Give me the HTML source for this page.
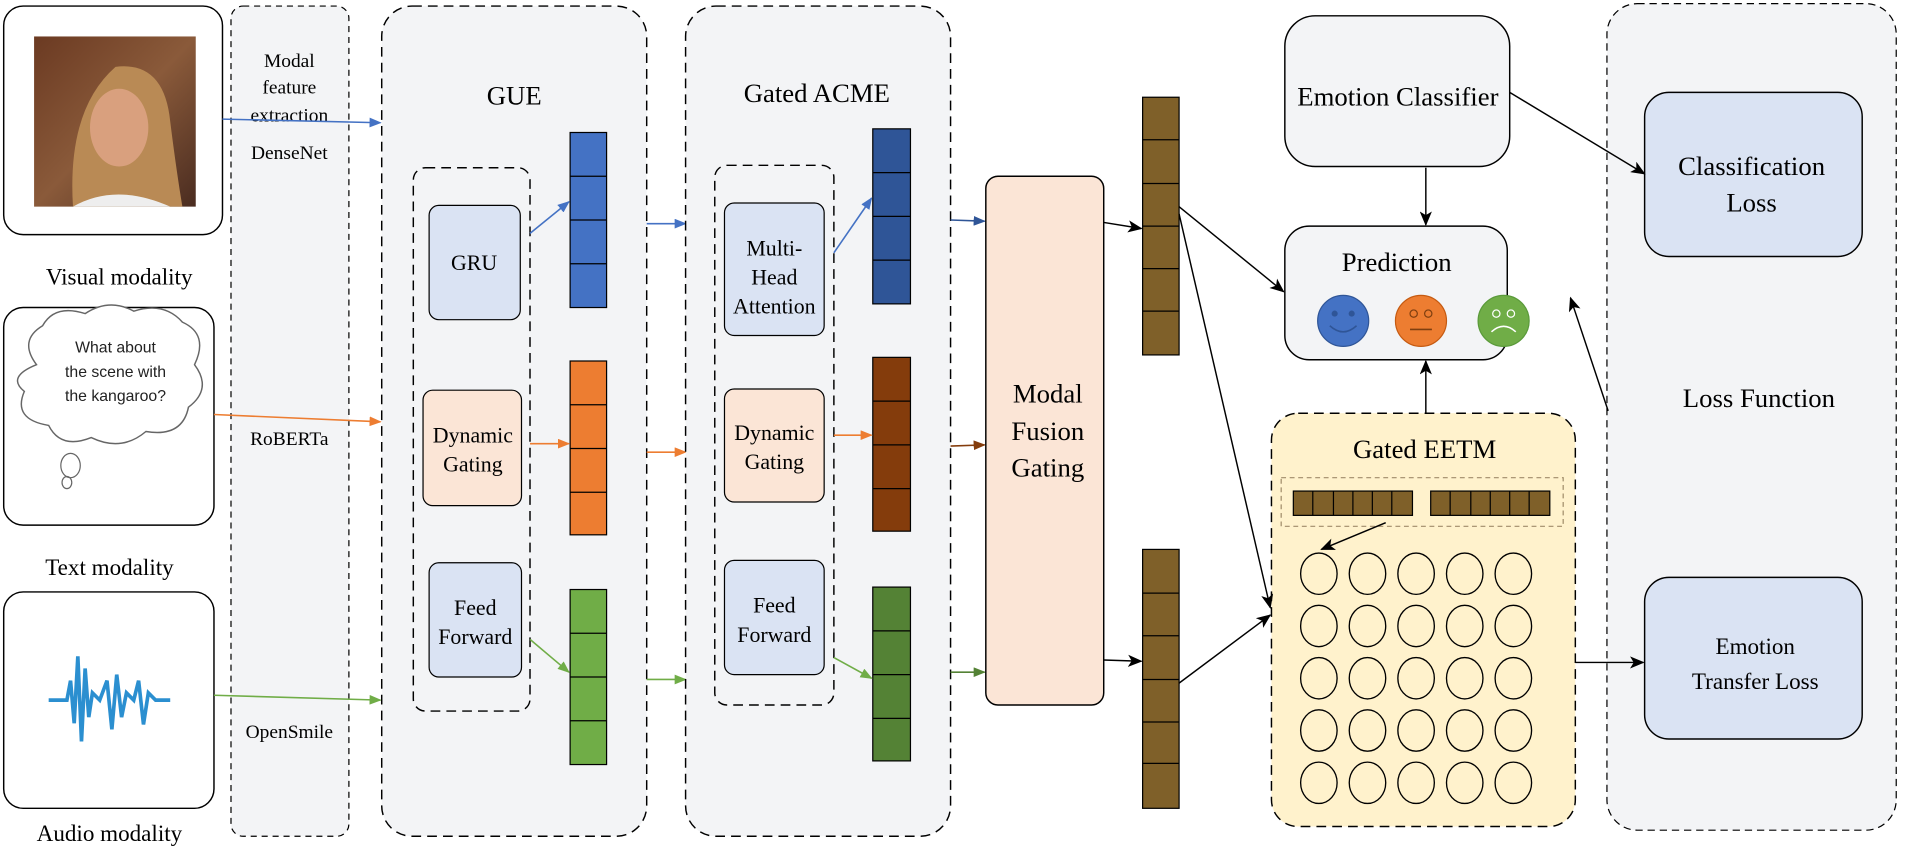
<!DOCTYPE html>
<html><head><meta charset="utf-8"><style>html,body{margin:0;padding:0;background:#fff}svg{display:block}text{font-family:"Liberation Serif",serif}.sans{font-family:"Liberation Sans",sans-serif}</style></head>
<body>
<svg width="1906" height="850" viewBox="0 0 1568 699.3" xmlns="http://www.w3.org/2000/svg">
<defs>
<marker id="ab" markerWidth="10" markerHeight="8" refX="9" refY="4" orient="auto" markerUnits="userSpaceOnUse"><path d="M0,0 L10,4 L0,8 Z" fill="#4472c4"/></marker>
<marker id="ao" markerWidth="10" markerHeight="8" refX="9" refY="4" orient="auto" markerUnits="userSpaceOnUse"><path d="M0,0 L10,4 L0,8 Z" fill="#ed7d31"/></marker>
<marker id="ag" markerWidth="10" markerHeight="8" refX="9" refY="4" orient="auto" markerUnits="userSpaceOnUse"><path d="M0,0 L10,4 L0,8 Z" fill="#70ad47"/></marker>
<marker id="adb" markerWidth="10" markerHeight="8" refX="9" refY="4" orient="auto" markerUnits="userSpaceOnUse"><path d="M0,0 L10,4 L0,8 Z" fill="#2f5597"/></marker>
<marker id="abr" markerWidth="10" markerHeight="8" refX="9" refY="4" orient="auto" markerUnits="userSpaceOnUse"><path d="M0,0 L10,4 L0,8 Z" fill="#843c0c"/></marker>
<marker id="adg" markerWidth="10" markerHeight="8" refX="9" refY="4" orient="auto" markerUnits="userSpaceOnUse"><path d="M0,0 L10,4 L0,8 Z" fill="#548235"/></marker>
<marker id="ak" markerWidth="12" markerHeight="10" refX="11" refY="5" orient="auto" markerUnits="userSpaceOnUse"><path d="M0,0 L12,5 L0,10 L3,5 Z" fill="#000"/></marker>
<linearGradient id="ph" x1="0" y1="0" x2="1" y2="1"><stop offset="0" stop-color="#6b3a22"/><stop offset="0.5" stop-color="#8a5a3a"/><stop offset="1" stop-color="#4a2c20"/></linearGradient>
</defs>

<!-- modality boxes -->
<rect x="3" y="5" width="180" height="188" rx="16" fill="#fff" stroke="#000" stroke-width="1.2"/>
<rect x="28" y="30" width="133" height="140" fill="url(#ph)"/>
<path d="M60,170 Q55,90 95,55 Q135,50 140,100 Q145,140 150,170 Z" fill="#b98a55"/>
<ellipse cx="98" cy="105" rx="24" ry="32" fill="#d9a07e"/>
<path d="M60,170 Q95,150 140,170 Z" fill="#eee"/>
<text x="98" y="234" font-size="19" text-anchor="middle">Visual modality</text>

<rect x="3" y="253" width="173" height="179" rx="16" fill="#fff" stroke="#000" stroke-width="1.2"/>
<path d="M30,300 Q15,280 35,268 Q45,250 70,258 Q90,245 110,256 Q135,248 150,265 Q172,275 160,300 Q175,320 155,335 Q150,360 120,355 Q100,372 75,360 Q50,370 40,350 Q10,345 20,322 Q5,310 30,300 Z" fill="#fff" stroke="#666" stroke-width="1.2"/>
<ellipse cx="58" cy="383" rx="8" ry="10" fill="none" stroke="#666"/>
<ellipse cx="55" cy="397" rx="4" ry="5" fill="none" stroke="#666"/>
<g font-size="13" text-anchor="middle" fill="#222"><text class="sans" x="95" y="290">What about</text><text class="sans" x="95" y="310">the scene with</text><text class="sans" x="95" y="330">the kangaroo?</text></g>
<text x="90" y="473" font-size="19" text-anchor="middle">Text modality</text>

<rect x="3" y="487" width="173" height="178" rx="16" fill="#fff" stroke="#000" stroke-width="1.2"/>
<path d="M40,576 L55,576 L58,560 L61,595 L64,540 L67,610 L70,550 L73,590 L76,570 L82,576 L88,560 L92,600 L96,555 L100,590 L104,570 L110,576 L114,560 L118,596 L122,570 L128,576 L140,576" fill="none" stroke="#2b8fd0" stroke-width="3"/>
<text x="90" y="692" font-size="19" text-anchor="middle">Audio modality</text>

<!-- feature extraction column -->
<rect x="190" y="5" width="97" height="683" rx="10" fill="#f3f4f6" stroke="#000" stroke-dasharray="5,4"/>
<g font-size="16" text-anchor="middle"><text x="238" y="55">Modal</text><text x="238" y="77">feature</text><text x="238" y="100">extraction</text>
<text x="238" y="131">DenseNet</text><text x="238" y="366">RoBERTa</text><text x="238" y="607">OpenSmile</text></g>

<line x1="183" y1="98" x2="313" y2="101" stroke="#4472c4" stroke-width="1.3" marker-end="url(#ab)"/>
<line x1="176" y1="341" x2="313" y2="347" stroke="#ed7d31" stroke-width="1.3" marker-end="url(#ao)"/>
<line x1="176" y1="572" x2="313" y2="576" stroke="#70ad47" stroke-width="1.3" marker-end="url(#ag)"/>

<!-- GUE -->
<rect x="314" y="5" width="218" height="683" rx="25" fill="#f3f4f6" stroke="#000" stroke-width="1.2" stroke-dasharray="8,5"/>
<text x="423" y="86" font-size="22" text-anchor="middle">GUE</text>
<rect x="340" y="138" width="96" height="447" rx="10" fill="none" stroke="#000" stroke-width="1.2" stroke-dasharray="8,5"/>
<rect x="353" y="169" width="75" height="94" rx="8" fill="#dae3f3" stroke="#000"/>
<text x="390" y="222" font-size="18" text-anchor="middle">GRU</text>
<rect x="348" y="321" width="81" height="95" rx="8" fill="#fbe5d6" stroke="#000"/>
<g font-size="18" text-anchor="middle"><text x="389" y="364">Dynamic</text><text x="389" y="388">Gating</text></g>
<rect x="353" y="463" width="76" height="94" rx="8" fill="#dae3f3" stroke="#000"/>
<g font-size="18" text-anchor="middle"><text x="391" y="506">Feed</text><text x="391" y="530">Forward</text></g>

<g stroke="#000" stroke-width="1">
<rect x="469" y="109" width="30" height="144" fill="#4472c4"/><line x1="469" y1="145" x2="499" y2="145"/><line x1="469" y1="181" x2="499" y2="181"/><line x1="469" y1="217" x2="499" y2="217"/>
<rect x="469" y="297" width="30" height="143" fill="#ed7d31"/><line x1="469" y1="333" x2="499" y2="333"/><line x1="469" y1="369" x2="499" y2="369"/><line x1="469" y1="405" x2="499" y2="405"/>
<rect x="469" y="485" width="30" height="144" fill="#70ad47"/><line x1="469" y1="521" x2="499" y2="521"/><line x1="469" y1="557" x2="499" y2="557"/><line x1="469" y1="593" x2="499" y2="593"/>
</g>
<line x1="436" y1="192" x2="468" y2="166" stroke="#4472c4" stroke-width="1.3" marker-end="url(#ab)"/>
<line x1="436" y1="365" x2="468" y2="365" stroke="#ed7d31" stroke-width="1.3" marker-end="url(#ao)"/>
<line x1="436" y1="526" x2="468" y2="553" stroke="#70ad47" stroke-width="1.3" marker-end="url(#ag)"/>

<line x1="532" y1="184" x2="564" y2="184" stroke="#4472c4" stroke-width="1.3" marker-end="url(#ab)"/>
<line x1="532" y1="372" x2="564" y2="372" stroke="#ed7d31" stroke-width="1.3" marker-end="url(#ao)"/>
<line x1="532" y1="559" x2="564" y2="559" stroke="#70ad47" stroke-width="1.3" marker-end="url(#ag)"/>

<!-- ACME -->
<rect x="564" y="5" width="218" height="683" rx="25" fill="#f3f4f6" stroke="#000" stroke-width="1.2" stroke-dasharray="8,5"/>
<text x="672" y="84" font-size="22" text-anchor="middle">Gated ACME</text>
<rect x="588" y="136" width="98" height="444" rx="10" fill="none" stroke="#000" stroke-width="1.2" stroke-dasharray="8,5"/>
<rect x="596" y="167" width="82" height="109" rx="8" fill="#dae3f3" stroke="#000"/>
<g font-size="18" text-anchor="middle"><text x="637" y="210">Multi-</text><text x="637" y="234">Head</text><text x="637" y="258">Attention</text></g>
<rect x="596" y="320" width="82" height="93" rx="8" fill="#fbe5d6" stroke="#000"/>
<g font-size="18" text-anchor="middle"><text x="637" y="362">Dynamic</text><text x="637" y="386">Gating</text></g>
<rect x="596" y="461" width="82" height="94" rx="8" fill="#dae3f3" stroke="#000"/>
<g font-size="18" text-anchor="middle"><text x="637" y="504">Feed</text><text x="637" y="528">Forward</text></g>

<g stroke="#000" stroke-width="1">
<rect x="718" y="106" width="31" height="144" fill="#2f5597"/><line x1="718" y1="142" x2="749" y2="142"/><line x1="718" y1="178" x2="749" y2="178"/><line x1="718" y1="214" x2="749" y2="214"/>
<rect x="718" y="294" width="31" height="143" fill="#843c0c"/><line x1="718" y1="330" x2="749" y2="330"/><line x1="718" y1="366" x2="749" y2="366"/><line x1="718" y1="402" x2="749" y2="402"/>
<rect x="718" y="483" width="31" height="143" fill="#548235"/><line x1="718" y1="519" x2="749" y2="519"/><line x1="718" y1="555" x2="749" y2="555"/><line x1="718" y1="591" x2="749" y2="591"/>
</g>
<line x1="686" y1="208" x2="717" y2="163" stroke="#4472c4" stroke-width="1.3" marker-end="url(#ab)"/>
<line x1="686" y1="358" x2="717" y2="358" stroke="#ed7d31" stroke-width="1.3" marker-end="url(#ao)"/>
<line x1="686" y1="541" x2="717" y2="558" stroke="#70ad47" stroke-width="1.3" marker-end="url(#ag)"/>

<line x1="782" y1="181" x2="810" y2="182" stroke="#2f5597" stroke-width="1.3" marker-end="url(#adb)"/>
<line x1="782" y1="367" x2="810" y2="366" stroke="#843c0c" stroke-width="1.3" marker-end="url(#abr)"/>
<line x1="782" y1="553" x2="810" y2="553" stroke="#548235" stroke-width="1.3" marker-end="url(#adg)"/>

<!-- fusion -->
<rect x="811" y="145" width="97" height="435" rx="10" fill="#fbe5d6" stroke="#000" stroke-width="1.2"/>
<g font-size="22" text-anchor="middle"><text x="862" y="331">Modal</text><text x="862" y="362">Fusion</text><text x="862" y="392">Gating</text></g>

<g stroke="#000" stroke-width="1" fill="#7f6029">
<rect x="940" y="80" width="30" height="212"/><line x1="940" y1="115" x2="970" y2="115"/><line x1="940" y1="151" x2="970" y2="151"/><line x1="940" y1="186" x2="970" y2="186"/><line x1="940" y1="221" x2="970" y2="221"/><line x1="940" y1="256" x2="970" y2="256"/>
<rect x="940" y="452" width="30" height="213"/><line x1="940" y1="488" x2="970" y2="488"/><line x1="940" y1="523" x2="970" y2="523"/><line x1="940" y1="559" x2="970" y2="559"/><line x1="940" y1="594" x2="970" y2="594"/><line x1="940" y1="628" x2="970" y2="628"/>
</g>

<!-- loss panel (behind arrows) -->
<rect x="1322" y="3" width="238" height="680" rx="25" fill="#f3f4f6" stroke="#000" stroke-dasharray="6,4"/>
<text x="1447" y="335" font-size="22" text-anchor="middle">Loss Function</text>
<rect x="1353" y="76" width="179" height="135" rx="20" fill="#dae3f3" stroke="#000" stroke-width="1.2"/>
<g font-size="22" text-anchor="middle"><text x="1441" y="144">Classification</text><text x="1441" y="174">Loss</text></g>
<rect x="1353" y="475" width="179" height="133" rx="20" fill="#dae3f3" stroke="#000" stroke-width="1.2"/>
<g font-size="19" text-anchor="middle"><text x="1444" y="538">Emotion</text><text x="1444" y="567">Transfer Loss</text></g>

<!-- classifier / prediction -->
<rect x="1057" y="13" width="185" height="124" rx="25" fill="#f3f4f6" stroke="#000" stroke-width="1.2"/>
<text x="1150" y="87" font-size="22" text-anchor="middle">Emotion Classifier</text>
<rect x="1057" y="186" width="183" height="110" rx="20" fill="#f3f4f6" stroke="#000" stroke-width="1.2"/>
<text x="1149" y="223" font-size="22" text-anchor="middle">Prediction</text>
<circle cx="1105" cy="264" r="21" fill="#4472c4" stroke="#2f5597"/>
<circle cx="1098" cy="258" r="2.5" fill="#2f5597"/><circle cx="1112" cy="258" r="2.5" fill="#2f5597"/>
<path d="M1094,268 Q1105,278 1116,268" fill="none" stroke="#2f5597" stroke-width="1.3"/>
<circle cx="1169" cy="264" r="21" fill="#ed7d31" stroke="#c55a11"/>
<circle cx="1163" cy="258" r="3" fill="none" stroke="#7f3f10"/><circle cx="1175" cy="258" r="3" fill="none" stroke="#7f3f10"/>
<line x1="1160" y1="271" x2="1178" y2="271" stroke="#7f3f10" stroke-width="1.3"/>
<circle cx="1237" cy="264" r="21" fill="#70ad47" stroke="#5a9a3a"/>
<circle cx="1231" cy="258" r="3" fill="none" stroke="#fff"/><circle cx="1243" cy="258" r="3" fill="none" stroke="#fff"/>
<path d="M1227,273 Q1237,264 1247,273" fill="none" stroke="#fff" stroke-width="1.3"/>

<!-- EETM -->
<rect x="1046" y="340" width="250" height="340" rx="22" fill="#fff2cc" stroke="#000" stroke-width="1.2" stroke-dasharray="8,5"/>
<text x="1172" y="377" font-size="22" text-anchor="middle">Gated EETM</text>
<rect x="1054" y="393" width="232" height="40" fill="none" stroke="#a08c6a" stroke-dasharray="4,3"/>
<g stroke="#000" stroke-width="1" fill="#7f6029">
<rect x="1064" y="404" width="98" height="20"/><rect x="1177" y="404" width="98" height="20"/>
<line x1="1080" y1="404" x2="1080" y2="424"/><line x1="1097" y1="404" x2="1097" y2="424"/><line x1="1113" y1="404" x2="1113" y2="424"/><line x1="1129" y1="404" x2="1129" y2="424"/><line x1="1145" y1="404" x2="1145" y2="424"/>
<line x1="1193" y1="404" x2="1193" y2="424"/><line x1="1210" y1="404" x2="1210" y2="424"/><line x1="1226" y1="404" x2="1226" y2="424"/><line x1="1242" y1="404" x2="1242" y2="424"/><line x1="1258" y1="404" x2="1258" y2="424"/>
</g>
<g fill="none" stroke="#000" stroke-width="1.1">
<ellipse cx="1085" cy="472" rx="15" ry="17"/><ellipse cx="1125" cy="472" rx="15" ry="17"/><ellipse cx="1165" cy="472" rx="15" ry="17"/><ellipse cx="1205" cy="472" rx="15" ry="17"/><ellipse cx="1245" cy="472" rx="15" ry="17"/>
<ellipse cx="1085" cy="515" rx="15" ry="17"/><ellipse cx="1125" cy="515" rx="15" ry="17"/><ellipse cx="1165" cy="515" rx="15" ry="17"/><ellipse cx="1205" cy="515" rx="15" ry="17"/><ellipse cx="1245" cy="515" rx="15" ry="17"/>
<ellipse cx="1085" cy="558" rx="15" ry="17"/><ellipse cx="1125" cy="558" rx="15" ry="17"/><ellipse cx="1165" cy="558" rx="15" ry="17"/><ellipse cx="1205" cy="558" rx="15" ry="17"/><ellipse cx="1245" cy="558" rx="15" ry="17"/>
<ellipse cx="1085" cy="601" rx="15" ry="17"/><ellipse cx="1125" cy="601" rx="15" ry="17"/><ellipse cx="1165" cy="601" rx="15" ry="17"/><ellipse cx="1205" cy="601" rx="15" ry="17"/><ellipse cx="1245" cy="601" rx="15" ry="17"/>
<ellipse cx="1085" cy="644" rx="15" ry="17"/><ellipse cx="1125" cy="644" rx="15" ry="17"/><ellipse cx="1165" cy="644" rx="15" ry="17"/><ellipse cx="1205" cy="644" rx="15" ry="17"/><ellipse cx="1245" cy="644" rx="15" ry="17"/>
</g>

<!-- black arrows -->
<g stroke="#000" stroke-width="1.2" fill="none" marker-end="url(#ak)">
<line x1="908" y1="183" x2="939" y2="188"/>
<line x1="908" y1="543" x2="939" y2="544"/>
<line x1="970" y1="170" x2="1056" y2="240"/>
<line x1="970" y1="176" x2="1045" y2="500"/>
<line x1="970" y1="562" x2="1045" y2="506"/>
<line x1="1173" y1="138" x2="1173" y2="185"/>
<line x1="1173" y1="340" x2="1173" y2="297"/>
<line x1="1323" y1="338" x2="1292" y2="245"/>
<line x1="1242" y1="76" x2="1353" y2="143"/>
<line x1="1296" y1="545" x2="1352" y2="545"/>
<line x1="1140" y1="430" x2="1087" y2="452"/>
</g>
</svg>
</body></html>
